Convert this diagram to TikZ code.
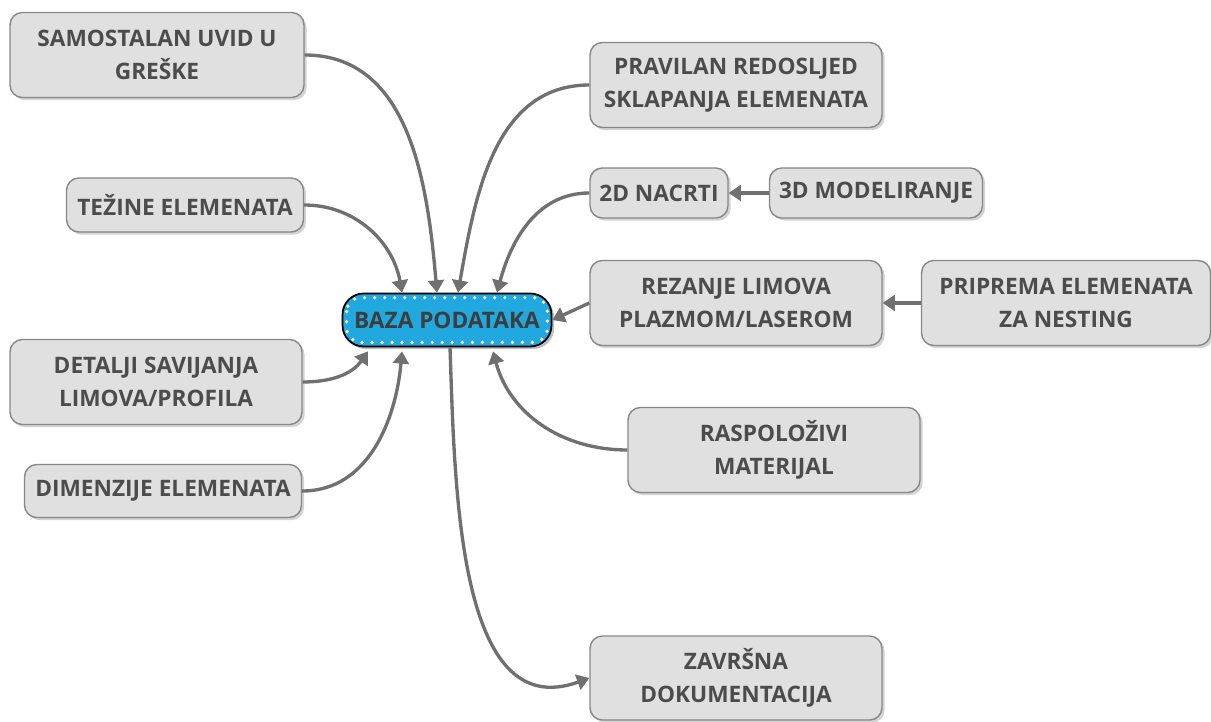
\documentclass[tikz,border=0pt]{standalone}
\usepackage{fontspec}
\setmainfont{Open Sans}
\usetikzlibrary{arrows.meta,shadows,calc}

\definecolor{boxfill}{RGB}{224,224,224}
\definecolor{boxline}{RGB}{135,135,135}
\definecolor{txtgray}{RGB}{76,76,76}
\definecolor{bazablue}{RGB}{33,168,222}
\definecolor{linkgray}{RGB}{112,112,112}

\begin{document}
\begin{tikzpicture}[x=0.02cm,y=0.02cm,
  topic/.style={draw=boxline, fill=boxfill, rounded corners=7pt, line width=0.8pt,
    align=center, text=txtgray, inner sep=0pt,
    font=\fontsize{12.9}{19}\selectfont\bfseries,
    drop shadow={shadow xshift=1.5pt, shadow yshift=-1.5pt, opacity=0.35}},
  link/.style={draw=linkgray, line width=1.9pt, -{Triangle[width=9pt,length=7pt]}}
]
\useasboundingbox (0,0) rectangle (1211,-722);

\node[topic, minimum width=5.88cm, minimum height=1.7cm] (samo) at (157,-55) {SAMOSTALAN UVID U\\GREŠKE};
\node[topic, minimum width=4.74cm, minimum height=1.08cm] (tezine) at (185,-205) {TEŽINE ELEMENATA};
\node[topic, minimum width=5.84cm, minimum height=1.7cm] (detalji) at (156,-382) {DETALJI SAVIJANJA\\LIMOVA/PROFILA};
\node[topic, minimum width=5.54cm, minimum height=1.06cm] (dimenz) at (163,-491) {DIMENZIJE ELEMENATA};

\node[topic, minimum width=5.84cm, minimum height=1.7cm] (pravilan) at (736,-85) {PRAVILAN REDOSLJED\\SKLAPANJA ELEMENATA};
\node[topic, minimum width=2.76cm, minimum height=1.0cm] (nacrti) at (659,-193) {2D NACRTI};
\node[topic, minimum width=4.26cm, minimum height=1.0cm] (model) at (876,-193) {3D MODELIRANJE};
\node[topic, minimum width=5.84cm, minimum height=1.7cm] (rezanje) at (736,-303) {REZANJE LIMOVA\\PLAZMOM/LASEROM};
\node[topic, minimum width=5.78cm, minimum height=1.7cm] (priprema) at (1066,-303) {PRIPREMA ELEMENATA\\ZA NESTING};
\node[topic, minimum width=5.84cm, minimum height=1.7cm] (material) at (774,-450) {RASPOLOŽIVI\\MATERIJAL};
\node[topic, minimum width=5.84cm, minimum height=1.68cm] (zavrsna) at (736,-678) {ZAVRŠNA\\DOKUMENTACIJA};

\node[draw=black, fill=bazablue, rounded corners=12pt, line width=1pt,
  minimum width=4.18cm, minimum height=1.06cm, inner sep=0pt,
  text=txtgray!80!black, font=\fontsize{12.9}{14}\selectfont\bfseries,
  drop shadow={shadow xshift=1.5pt, shadow yshift=-1.5pt, opacity=0.5}] (baza) at (447,-320) {BAZA PODATAKA};
\draw[white, line width=2.1pt, line cap=round, dash pattern=on 0pt off 5.7pt, rounded corners=8pt]
  ($(baza.north west)+(5,-5)$) rectangle ($(baza.south east)+(-5,5)$);

\draw[link] (samo.east) to[out=0,in=95] ($(baza.north)+(-10,0)$);
\draw[link] (tezine.east) to[out=0,in=100] ($(baza.north)+(-45,0)$);
\draw[link] (pravilan.west) to[out=180,in=80] ($(baza.north)+(11,0)$);
\draw[link] (nacrti.west) to[out=180,in=75] ($(baza.north)+(50,0)$);
\draw[link] (model.west) -- (nacrti.east);
\draw[link] (rezanje.west) -- (baza.east);
\draw[link] (priprema.west) -- (rezanje.east);
\draw[link] (detalji.east) to[out=0,in=-125] ($(baza.south)+(-79,-4)$);
\draw[link] (dimenz.east) to[out=0,in=-95] ($(baza.south)+(-45,-4)$);
\draw[link] (material.west) to[out=180,in=-75] ($(baza.south)+(46,-4)$);
\draw[link] ($(baza.south)+(3,0)$) to[out=-88,in=200] (zavrsna.west);

\end{tikzpicture}
\end{document}
